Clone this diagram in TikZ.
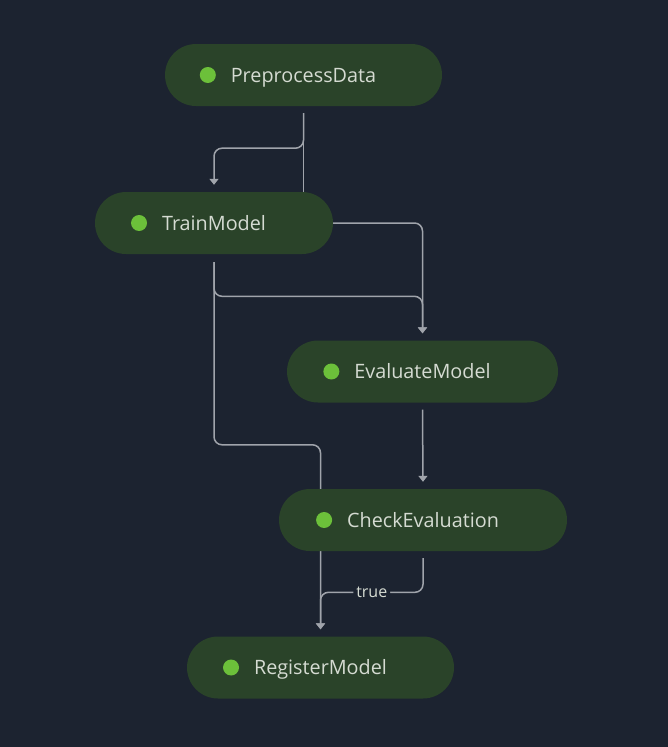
\documentclass[tikz,border=0pt]{standalone}
\usepackage{fontspec}
\setmainfont{Open Sans}
\usetikzlibrary{arrows.meta, positioning, calc, backgrounds}
\definecolor{canvasbg}{HTML}{1C2330}
\definecolor{stepgreen}{HTML}{2A4329}
\definecolor{dotgreen}{HTML}{6CC03A}
\definecolor{labelgray}{HTML}{D5DBD2}
\definecolor{edgegray}{HTML}{A0A4AB}
\tikzset{
  stepnode/.style={rectangle, rounded corners=31pt, fill=stepgreen, minimum height=62pt, inner xsep=0pt,
    text=labelgray, font=\fontsize{19.8}{23}\selectfont, text height=14pt, text depth=0pt},
  dotnode/.style={circle, fill=dotgreen, minimum size=16pt, inner sep=0pt},
  edgeline/.style={draw=edgegray, line width=1.5pt, rounded corners=8pt},
  edgearrow/.style={edgeline, -{Triangle[width=9pt,length=6pt]}},
  edgelabel/.style={fill=canvasbg, text=labelgray, inner sep=3pt, font=\fontsize{16}{19}\selectfont}
}

\begin{document}
\begin{tikzpicture}[x=1pt, y=-1pt]
  % Steps
  \node[stepnode, minimum width=277pt] (pd) at (303.5, 75) {PreprocessData};
  \node[stepnode, minimum width=238pt] (tm) at (214, 223) {TrainModel};
  \node[stepnode, minimum width=271pt] (em) at (422.5, 371.5) {EvaluateModel};
  \node[stepnode, minimum width=288pt] (ce) at (423, 520) {CheckEvaluation};
  \node[stepnode, minimum width=267pt] (rm) at (320.5, 667.5) {RegisterModel};

  % Status dots
  \node[dotnode] (pd-dot) at ($(pd.text |- pd.center)+(-23,0)$) {};
  \node[dotnode] (tm-dot) at ($(tm.text |- tm.center)+(-23,0)$) {};
  \node[dotnode] (em-dot) at ($(em.text |- em.center)+(-23,0)$) {};
  \node[dotnode] (ce-dot) at ($(ce.text |- ce.center)+(-23,0)$) {};
  \node[dotnode] (rm-dot) at ($(rm.text |- rm.center)+(-23,0)$) {};

  \begin{pgfonlayer}{background}
    \fill[canvasbg] (0,0) rectangle (668,747);

    % PreprocessData -> TrainModel
    \coordinate (pd-split) at ([yshift=-42pt]pd.south);
    \draw[edgearrow] ([yshift=-7pt]pd.south) -- (pd-split) -| ([yshift=7pt]tm.north);
    \draw[edgeline] ([yshift=-7pt]pd.south) -- (pd.south |- tm.center);

    % TrainModel -> EvaluateModel
    \draw[edgearrow] (tm.east) -| ([yshift=7pt]em.north);
    \draw[edgearrow] ([yshift=-8pt]tm.south) |- ([yshift=44pt]em.north) -- ([yshift=7pt]em.north);

    % TrainModel -> RegisterModel
    \coordinate (tm-rm) at ($(ce.north -| rm.north)+(0,-44)$);
    \draw[edgearrow] ([yshift=-8pt]tm.south) |- (tm-rm) -- ([yshift=7pt]rm.north);

    % EvaluateModel -> CheckEvaluation
    \draw[edgearrow] ([yshift=-7pt]em.south) -- ([yshift=7pt]ce.north);

    % CheckEvaluation -> RegisterModel
    \draw[edgearrow] ([yshift=-7pt]ce.south) |- node[edgelabel, pos=0.75] (true-lbl) {true}
      ([yshift=44pt]rm.north) -- ([yshift=7pt]rm.north);
  \end{pgfonlayer}
\end{tikzpicture}
\end{document}
